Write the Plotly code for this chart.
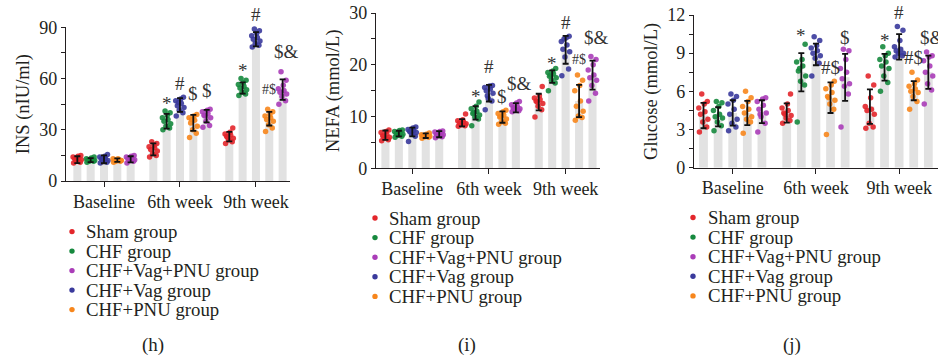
import plotly.graph_objects as go

# ---------------- data ----------------
timepoints = ["Baseline", "6th week", "9th week"]
groups = ["Sham group", "CHF group", "CHF+Vag group", "CHF+PNU group", "CHF+Vag+PNU group"]
legend_order = ["Sham group", "CHF group", "CHF+Vag+PNU group", "CHF+Vag group", "CHF+PNU group"]

# INS (nIU/ml)
ins_mean = {
    "Sham group": [12.5, 18.5, 26.0],
    "CHF group": [12.2, 35.0, 54.5],
    "CHF+Vag group": [12.7, 44.5, 83.0],
    "CHF+PNU group": [12.2, 34.0, 36.5],
    "CHF+Vag+PNU group": [12.7, 38.0, 53.5],
}
ins_sd = {
    "Sham group": [2.0, 3.5, 2.8],
    "CHF group": [1.2, 4.3, 3.3],
    "CHF+Vag group": [2.3, 4.0, 4.2],
    "CHF+PNU group": [1.0, 4.7, 4.0],
    "CHF+Vag+PNU group": [1.8, 3.7, 6.0],
}
ins_points = {
    "Sham group": [[10.5, 11, 12, 12.5, 13, 13.5, 14, 14.5, 15, 11.5],
                   [14, 15, 16, 17.5, 18.5, 19.5, 20, 21, 22, 23],
                   [22, 23, 24, 25, 26, 27, 27.5, 28.5, 31, 25.5]],
    "CHF group": [[11, 11.5, 12, 12, 12.5, 13, 13, 13.5, 14, 11.5],
                  [30, 31, 32, 33.5, 35, 36, 37, 38.5, 40, 41],
                  [50, 51, 52, 53.5, 54.5, 55.5, 56.5, 57.5, 59, 60]],
    "CHF+Vag group": [[10.5, 11, 11.5, 12, 13, 13.5, 14, 14.5, 15.5, 12.5],
                      [38, 40, 41.5, 43, 44, 45.5, 47, 48, 49, 46],
                      [78.5, 79.5, 80.5, 82, 83, 84, 85, 86.5, 88, 89]],
    "CHF+PNU group": [[11, 11.5, 12, 12, 12.5, 12.5, 13, 13, 12, 11.5],
                      [25.5, 28, 30, 32, 34, 35.5, 37, 38, 39, 36],
                      [29, 31, 33, 35, 36, 37, 38, 39, 40.5, 42]],
    "CHF+Vag+PNU group": [[10.5, 11.5, 12, 12.5, 13, 13.5, 14, 14.5, 15, 12],
                          [31.5, 32.5, 35, 37, 38.5, 39.5, 40.5, 41.5, 42, 38],
                          [45, 47, 49.5, 51, 52, 53, 54, 56, 59, 64]],
}
ins_sig = {
    "CHF group": ["", "*", "*"],
    "CHF+Vag group": ["", "#", "#"],
    "CHF+PNU group": ["", "$", "#$"],
    "CHF+Vag+PNU group": ["", "$", "$&"],
}

# NEFA (mmol/L)
nefa_mean = {
    "Sham group": [6.4, 8.8, 12.8],
    "CHF group": [6.7, 10.7, 17.7],
    "CHF+Vag group": [7.0, 14.5, 22.9],
    "CHF+PNU group": [6.3, 9.9, 13.0],
    "CHF+Vag+PNU group": [6.6, 11.7, 18.0],
}
nefa_sd = {
    "Sham group": [0.9, 0.7, 1.6],
    "CHF group": [0.55, 1.3, 1.2],
    "CHF+Vag group": [0.85, 1.6, 2.7],
    "CHF+PNU group": [0.45, 1.1, 3.1],
    "CHF+Vag+PNU group": [0.6, 0.9, 2.8],
}
nefa_points = {
    "Sham group": [[5.3, 5.5, 5.8, 6.0, 6.3, 6.6, 6.9, 7.1, 7.4, 6.2],
                   [8.1, 8.2, 8.4, 8.6, 8.8, 9.0, 9.2, 9.4, 10.5, 8.5],
                   [9.9, 11.3, 12.0, 12.5, 13.0, 13.3, 13.6, 14.0, 15.8, 12.8]],
    "CHF group": [[6.0, 6.2, 6.4, 6.6, 6.7, 6.9, 7.1, 7.3, 7.4, 6.5],
                  [8.2, 9.5, 9.9, 10.3, 10.6, 11.0, 11.5, 12.0, 12.8, 10.8],
                  [15.0, 16.5, 17.0, 17.5, 17.8, 18.2, 18.5, 18.8, 19.3, 18.0]],
    "CHF+Vag group": [[5.2, 6.2, 6.6, 6.9, 7.1, 7.3, 7.5, 7.8, 8.0, 7.0],
                      [11.3, 13.0, 13.5, 14.5, 15.0, 15.3, 15.6, 15.9, 16.0, 14.0],
                      [17.9, 19.2, 21.5, 22.5, 23.0, 23.8, 24.5, 25.2, 25.5, 25.0]],
    "CHF+PNU group": [[5.8, 6.0, 6.1, 6.2, 6.3, 6.4, 6.5, 6.6, 6.8, 6.3],
                      [8.5, 8.7, 9.0, 9.5, 9.9, 10.3, 10.6, 10.9, 11.2, 10.0],
                      [9.3, 9.8, 10.1, 11.0, 12.0, 13.0, 15.0, 16.0, 17.0, 18.0]],
    "CHF+Vag+PNU group": [[5.9, 6.1, 6.3, 6.5, 6.6, 6.8, 7.0, 7.1, 7.2, 6.6],
                          [10.9, 11.1, 11.3, 11.5, 11.7, 12.0, 12.3, 12.6, 12.9, 11.6],
                          [13.0, 14.5, 16.0, 17.0, 17.5, 18.0, 19.0, 20.0, 21.0, 21.6]],
}
nefa_sig = {
    "CHF group": ["", "*", "*"],
    "CHF+Vag group": ["", "#", "#"],
    "CHF+PNU group": ["", "$", "#$"],
    "CHF+Vag+PNU group": ["", "$&", "$&"],
}

# Glucose (mmol/L)
glu_mean = {
    "Sham group": [4.1, 4.3, 4.8],
    "CHF group": [4.0, 7.5, 7.9],
    "CHF+Vag group": [4.3, 8.9, 9.5],
    "CHF+PNU group": [4.3, 5.5, 6.05],
    "CHF+Vag+PNU group": [4.4, 7.1, 7.5],
}
glu_sd = {
    "Sham group": [1.0, 0.75, 1.35],
    "CHF group": [0.75, 1.5, 1.05],
    "CHF+Vag group": [1.0, 0.85, 1.0],
    "CHF+PNU group": [0.95, 1.2, 0.75],
    "CHF+Vag+PNU group": [0.9, 1.85, 1.3],
}
glu_points = {
    "Sham group": [[2.8, 3.2, 3.6, 3.8, 4.2, 4.4, 4.7, 5.0, 5.2, 5.8],
                   [3.5, 3.7, 3.9, 4.1, 4.3, 4.5, 4.7, 5.0, 5.8, 4.2],
                   [3.1, 3.2, 3.5, 4.2, 4.5, 4.6, 4.8, 5.5, 6.5, 7.2]],
    "CHF group": [[2.9, 3.3, 3.6, 3.9, 4.0, 4.2, 4.5, 4.8, 5.1, 5.2],
                  [3.6, 6.5, 6.8, 7.2, 7.6, 8.0, 8.3, 8.5, 9.7, 7.8],
                  [6.0, 6.7, 7.2, 7.8, 8.0, 8.3, 8.5, 8.8, 9.0, 9.5]],
    "CHF+Vag group": [[2.9, 3.2, 3.5, 3.8, 4.2, 4.6, 5.0, 5.3, 5.6, 5.8],
                      [7.2, 8.2, 8.6, 8.8, 9.0, 9.2, 9.4, 9.6, 10.0, 10.3],
                      [8.7, 8.8, 9.0, 9.0, 9.2, 9.3, 9.5, 10.0, 10.8, 11.1]],
    "CHF+PNU group": [[2.7, 3.6, 3.8, 4.0, 4.3, 4.6, 4.8, 5.2, 5.5, 6.0],
                      [2.6, 4.6, 5.0, 5.3, 5.6, 5.9, 6.2, 6.5, 6.8, 5.5],
                      [4.6, 5.2, 5.6, 5.9, 6.0, 6.2, 6.4, 6.6, 6.9, 7.5]],
    "CHF+Vag+PNU group": [[2.8, 3.5, 4.0, 4.3, 4.6, 4.9, 5.2, 5.4, 5.5, 4.2],
                          [3.2, 5.8, 6.4, 6.6, 7.0, 7.5, 7.8, 8.5, 9.2, 9.3],
                          [5.0, 6.1, 6.6, 7.2, 7.5, 8.0, 8.4, 8.7, 8.8, 9.1]],
}
glu_sig = {
    "CHF group": ["", "*", "*"],
    "CHF+Vag group": ["", "", "#"],
    "CHF+PNU group": ["", "#$", "#$"],
    "CHF+Vag+PNU group": ["", "$", "$&"],
}

# ---------------- styling / layout ----------------
W, H = 938, 362
FONT = "Liberation Serif"
INK = "#231f20"
BAR_COLOR = "#e2e2e2"
colors = {
    "Sham group": "#e3262b",
    "CHF group": "#16893e",
    "CHF+Vag group": "#3a3a9c",
    "CHF+PNU group": "#f7861c",
    "CHF+Vag+PNU group": "#aa3db8",
}
GROUP_STEP = 5.7          # distance between timepoint groups, in bar spacings
JITTER = [-0.28, 0.22, -0.05, 0.3, -0.2, 0.1, -0.32, 0.05, 0.26, -0.12]

# label heights (data units) for the significance marks
sig_y_ins = {"CHF group": [None, 48.4, 67.4], "CHF+Vag group": [None, 57.2, 97.3],
             "CHF+PNU group": [None, 51.0, 53.3], "CHF+Vag+PNU group": [None, 53.0, 75.8]}
sig_y_nefa = {"CHF group": [None, 14.8, 21.3], "CHF+Vag group": [None, 19.7, 28.1],
              "CHF+PNU group": [None, 13.9, 21.1], "CHF+Vag+PNU group": [None, 16.3, 25.2]}
sig_y_glu = {"CHF group": [None, 10.8, 10.4], "CHF+Vag group": [None, None, 12.2],
             "CHF+PNU group": [None, 7.9, 8.65], "CHF+Vag+PNU group": [None, 10.2, 10.2]}

panels = [
    dict(mean=ins_mean, sd=ins_sd, pts=ins_points, sig=ins_sig, sig_y=sig_y_ins,
         title="INS (nIU/ml)", ymax=90, minor=15, major=30, small_combo=True,
         px=dict(x0=66, x1=290, top=27.3, bot=181, c0=104, unit=13.33),
         legend=dict(dot=72, text=84, y0=231.6, step=19.5), label=("(h)", 153)),
    dict(mean=nefa_mean, sd=nefa_sd, pts=nefa_points, sig=nefa_sig, sig_y=sig_y_nefa,
         title="NEFA (mmol/L)", ymax=30, minor=5, major=10, small_combo=True,
         px=dict(x0=376, x1=600, top=13, bot=168.3, c0=412.3, unit=13.45),
         legend=dict(dot=375, text=387, y0=218, step=19.6), label=("(i)", 467)),
    dict(mean=glu_mean, sd=glu_sd, pts=glu_points, sig=glu_sig, sig_y=sig_y_glu,
         title="Glucose (mmol/L)", ymax=12, minor=1.5, major=3, small_combo=False,
         px=dict(x0=694, x1=938, top=15, bot=167.7, c0=732.7, unit=14.6),
         legend=dict(dot=693, text=706, y0=217.5, step=19.6), label=("(j)", 792)),
]

fig = go.Figure()
annotations = []
shapes = []
layout_axes = {}

for p_i, P in enumerate(panels):
    n = "" if p_i == 0 else str(p_i + 1)
    xa, ya = "x" + n, "y" + n
    px = P["px"]
    ydom = [1 - px["bot"] / H, 1 - px["top"] / H]
    for k, g in enumerate(groups):
        xs = [t * GROUP_STEP + (k - 2) for t in range(len(timepoints))]
        fig.add_trace(go.Bar(x=xs, y=P["mean"][g], width=0.6, marker=dict(color=BAR_COLOR, line=dict(width=0)),
                             xaxis=xa, yaxis=ya, showlegend=False, hoverinfo="skip"))
    for k, g in enumerate(groups):
        px_list, py_list = [], []
        for t in range(len(timepoints)):
            for j, v in enumerate(P["pts"][g][t]):
                px_list.append(t * GROUP_STEP + (k - 2) + JITTER[j % len(JITTER)])
                py_list.append(v)
        fig.add_trace(go.Scatter(x=px_list, y=py_list, mode="markers", xaxis=xa, yaxis=ya,
                                 marker=dict(size=5.5, color=colors[g], opacity=0.9, line=dict(width=0)),
                                 showlegend=False, cliponaxis=False, name=g))
    for k, g in enumerate(groups):
        xs = [t * GROUP_STEP + (k - 2) for t in range(len(timepoints))]
        fig.add_trace(go.Scatter(x=xs, y=P["mean"][g], mode="markers", xaxis=xa, yaxis=ya,
                                 marker=dict(size=1, color="rgba(0,0,0,0)"),
                                 error_y=dict(type="data", array=P["sd"][g], color="#111111",
                                              thickness=1.8, width=3),
                                 showlegend=False, cliponaxis=False, hoverinfo="skip"))
    # significance marks (y converted to paper so labels above the axis top stay visible)
    for k, g in enumerate(groups):
        if g not in P["sig"]:
            continue
        for t in range(len(timepoints)):
            txt = P["sig"][g][t]
            if not txt:
                continue
            small = (txt == "#$" and P["small_combo"])
            yv = P["sig_y"][g][t]
            annotations.append(dict(
                x=t * GROUP_STEP + (k - 2), xref=xa,
                y=ydom[0] + (ydom[1] - ydom[0]) * yv / P["ymax"], yref="paper",
                text=txt, showarrow=False, xanchor="center", yanchor="middle",
                yshift=-5 if txt == "*" else 0, xshift=4 if txt == "$&" else 0,
                font=dict(family=FONT, size=14 if small else 19, color="#333333")))
    # axes
    left = (px["x0"] - px["c0"]) / px["unit"]
    right = (px["x1"] - px["c0"]) / px["unit"]
    yt = [i * P["minor"] for i in range(int(round(P["ymax"] / P["minor"])) + 1)]
    ytxt = [("%g" % v) if abs(v / P["major"] - round(v / P["major"])) < 1e-9 else "" for v in yt]
    layout_axes["xaxis" + n] = dict(
        domain=[px["x0"] / W, px["x1"] / W], range=[left, right], anchor=ya,
        tickvals=[t * GROUP_STEP for t in range(len(timepoints))], ticktext=timepoints,
        ticks="outside", ticklen=5, tickwidth=1.3, tickcolor=INK,
        showline=True, linecolor=INK, linewidth=1.3, showgrid=False, zeroline=False,
        tickfont=dict(family=FONT, size=18, color=INK), automargin=False, fixedrange=True,
        ticklabelstandoff=-1)
    layout_axes["yaxis" + n] = dict(
        domain=ydom, range=[0, P["ymax"]], anchor=xa,
        tickvals=yt, ticktext=ytxt, ticks="outside", ticklen=4, tickwidth=1.3, tickcolor=INK,
        showline=True, linecolor=INK, linewidth=1.3, showgrid=False, zeroline=False,
        tickfont=dict(family=FONT, size=18, color=INK), automargin=False, fixedrange=True,
        title=dict(text=P["title"], font=dict(family=FONT, size=18.5, color=INK), standoff=4))
    # legend (manual, to match the compact spacing)
    L = P["legend"]
    for r, g in enumerate(legend_order):
        yc = L["y0"] + r * L["step"]
        rad = 2.7
        shapes.append(dict(type="circle", xref="paper", yref="paper",
                           x0=(L["dot"] - rad) / W, x1=(L["dot"] + rad) / W,
                           y0=1 - (yc + rad) / H, y1=1 - (yc - rad) / H,
                           fillcolor=colors[g], line=dict(width=0)))
        annotations.append(dict(x=L["text"] / W, y=1 - yc / H, xref="paper", yref="paper",
                                text=g, showarrow=False, xanchor="left", yanchor="middle",
                                font=dict(family=FONT, size=18.8, color=INK)))
    lab, lx = P["label"]
    annotations.append(dict(x=lx / W, y=1 - 345 / H, xref="paper", yref="paper", text=lab,
                            showarrow=False, xanchor="center", yanchor="middle",
                            font=dict(family=FONT, size=19, color=INK)))

fig.update_layout(
    width=W, height=H, margin=dict(l=0, r=0, t=0, b=0, pad=0),
    template="none", paper_bgcolor="white", plot_bgcolor="white",
    barmode="overlay", showlegend=False,
    font=dict(family=FONT, size=18, color=INK),
    annotations=annotations, shapes=shapes, **layout_axes)

fig.write_html("out.html", config={"displayModeBar": False},
               post_script="document.body.style.margin='0px';document.body.style.padding='0px';"
                           "document.body.style.overflow='hidden';")
